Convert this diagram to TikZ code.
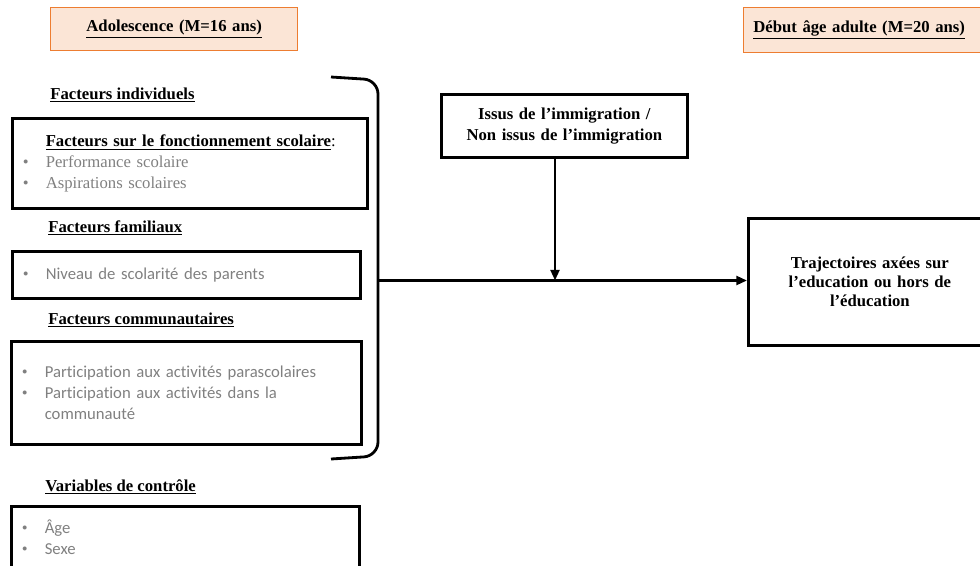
\documentclass[tikz,border=0pt]{standalone}
\usepackage{fontspec}
\setmainfont{Liberation Serif}
\newfontfamily\calibri[Ligatures=NoCommon]{Carlito}
\usetikzlibrary{arrows.meta}
\definecolor{peche}{HTML}{FBE5D6}
\definecolor{bordorange}{HTML}{ED7D31}
\definecolor{grisclair}{HTML}{808080}
\newcommand{\puce}{\hspace*{6pt}\makebox[13pt][l]{\rmfamily\textbullet}}
\newcommand{\retrait}{\hspace*{19pt}}

\begin{document}
\begin{tikzpicture}[x=0.02cm,y=-0.02cm,
    every node/.style={font=\fontsize{9.5}{11.8}\selectfont},
    boite/.style={draw, line width=1.6pt, anchor=north west, align=left, inner xsep=0pt, inner ysep=0pt},
    periode/.style={draw=bordorange, line width=0.8pt, fill=peche, anchor=north west, inner xsep=0pt, inner ysep=0pt},
    titre/.style={font=\fontsize{9.5}{11.8}\selectfont\bfseries, anchor=base west, inner sep=0pt},
    fleche/.style={line width=1.4pt, -{Triangle[length=6pt,width=5pt]}},
    crochet/.style={line width=1.6pt, rounded corners=8pt}]
    \clip (0,0) rectangle (980,565);

    % periodes
    \node[periode, text width=4.94cm, minimum height=0.86cm, align=center] (ado) at (50,7)
        {\textbf{\underline{Adolescence (M=16 ans)}}};
    \node[periode, text width=5cm, minimum height=0.9cm, align=left] (debut) at (743,7)
        {\hspace*{5.5pt}\textbf{\underline{Début âge adulte (M=20 ans)}}};

    % titres des blocs
    \foreach \x/\y/\t [count=\i] in {50/99/Facteurs individuels, 48/232/Facteurs familiaux,
                                     48/324/Facteurs communautaires, 45/491/Variables de contrôle} {
        \node[titre] (titre\i) at (\x,\y) {\underline{\t}};
    }

    % blocs de facteurs
    \node[boite, text width=7.1cm, minimum height=1.8cm] (scol) at (11,117)
        {\retrait\textbf{\underline{Facteurs sur le fonctionnement scolaire}}:\\
         \color{grisclair}\puce Performance scolaire\\
         \color{grisclair}\puce Aspirations scolaires};
    \node[boite, text width=6.96cm, minimum height=0.94cm] (fam) at (11,250)
        {\calibri\color{grisclair}\puce Niveau de scolarité des parents};
    \node[boite, text width=7cm, minimum height=2.06cm] (comm) at (10,340)
        {\calibri\color{grisclair}\puce Participation aux activités parascolaires\\
         \calibri\color{grisclair}\puce Participation aux activités dans la\\
         \calibri\color{grisclair}\retrait communauté};
    \node[boite, text width=6.96cm, minimum height=1.24cm] (ctrl) at (10,505)
        {\calibri\color{grisclair}\puce Âge\\
         \calibri\color{grisclair}\puce Sexe};

    % moderateur et resultat
    \node[boite, text width=4.92cm, minimum height=1.26cm, align=center, font=\fontsize{9.5}{12}\selectfont\bfseries] (issus) at (440,93)
        {Issus de l’immigration /\\Non issus de l’immigration};
    \node[boite, text width=4.86cm, minimum height=2.54cm, align=center, font=\fontsize{9.5}{11}\selectfont\bfseries] (traj) at (747,217)
        {Trajectoires axées sur\\l’education ou hors de\\l’éducation};

    % crochet et fleches
    \draw[crochet] (331,77) -- (378,80) -- (378,456) -- (331,459);
    \coordinate (brk) at (378,280.5);
    \coordinate (rencontre) at (555,280.5);
    \draw[fleche] (brk) -- (brk -| traj.west);
    \draw[fleche] (rencontre |- issus.south) -- (rencontre);
\end{tikzpicture}
\end{document}
